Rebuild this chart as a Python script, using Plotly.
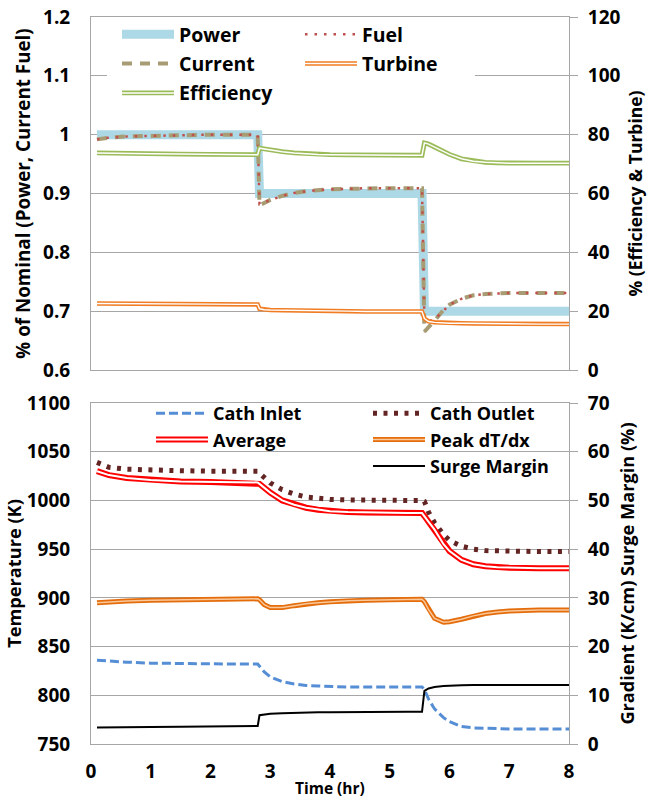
import plotly.graph_objects as go

# ---------------- data ----------------
t = [0.1, 0.3, 0.6, 1.0, 1.5, 2.0, 2.5, 2.79, 2.82, 2.9, 3.0, 3.2, 3.4, 3.6, 3.8, 4.0, 4.3,
     4.6, 5.0, 5.3, 5.54, 5.58, 5.65, 5.75, 5.9, 6.0, 6.2, 6.4, 6.6, 6.8, 7.0, 7.5, 8.0]

# top panel (left axis: fraction of nominal)
power = [1.0, 1.0, 1.0, 1.0, 1.0, 1.0, 1.0, 1.0,
         0.9, 0.9, 0.9, 0.9, 0.9, 0.9, 0.9, 0.9, 0.9, 0.9, 0.9, 0.9, 0.9,
         0.7, 0.7, 0.7, 0.7, 0.7, 0.7, 0.7, 0.7, 0.7, 0.7, 0.7, 0.7]
current = [0.992, 0.995, 0.997, 0.998, 0.999, 1.0, 1.0, 1.0,
           0.880, 0.884, 0.889, 0.896, 0.901, 0.904, 0.906, 0.907, 0.908, 0.909, 0.909, 0.909, 0.909,
           0.665, 0.672, 0.684, 0.702, 0.711, 0.721, 0.727, 0.729, 0.730, 0.731, 0.731, 0.731]
fuel = [0.992, 0.995, 0.997, 0.998, 0.999, 1.0, 1.0, 1.0,
        0.882, 0.885, 0.889, 0.896, 0.901, 0.904, 0.906, 0.907, 0.908, 0.909, 0.909, 0.909, 0.909,
        0.685, 0.683, 0.686, 0.702, 0.711, 0.721, 0.727, 0.729, 0.730, 0.731, 0.731, 0.731]
# top panel (right axis: %)
efficiency = [73.8, 73.7, 73.6, 73.5, 73.4, 73.3, 73.2, 73.2,
              75.4, 75.1, 74.8, 74.2, 73.8, 73.5, 73.3, 73.2, 73.1, 73.1, 73.0, 73.0, 73.0,
              77.2, 76.8, 75.8, 74.3, 73.3, 71.8, 71.0, 70.6, 70.4, 70.3, 70.3, 70.3]
turbine = [22.6, 22.6, 22.5, 22.5, 22.4, 22.4, 22.3, 22.3,
           20.8, 20.5, 20.4, 20.3, 20.2, 20.1, 20.1, 20.0, 20.0, 19.9, 19.9, 19.9, 19.9,
           17.5, 16.5, 16.2, 16.0, 15.9, 15.9, 15.8, 15.8, 15.7, 15.7, 15.6, 15.6]

# bottom panel (left axis: K)
cath_inlet = [836, 835, 834, 833, 832.5, 832, 832, 832,
              830, 824, 819, 814, 811.5, 810, 809.5, 809, 808.5, 808.5, 808.5, 808.5, 808.5,
              806, 796, 786, 777, 773, 768, 766.5, 766, 765.5, 765.5, 765.5, 765.5]
cath_outlet = [1039, 1034, 1032, 1031, 1030.5, 1030, 1030, 1030,
               1028, 1024, 1018, 1011, 1006.5, 1003.5, 1002, 1001, 1000.5, 1000, 1000, 1000, 1000,
               999, 988, 977, 965, 959, 953, 950, 948.5, 948, 948, 947.5, 947.5]
average = [1030, 1026, 1023, 1021, 1019.5, 1019, 1018.5, 1018.5,
           1017, 1013, 1008, 1000, 995.5, 992.5, 990.5, 989, 988, 987.5, 987, 987, 987,
           984, 978, 970, 955, 948, 939, 934.5, 932.5, 931.5, 931, 930.5, 930.5]
# bottom panel (right axis)
peak_dtdx = [29.0, 29.2, 29.35, 29.5, 29.6, 29.7, 29.75, 29.8,
             29.6, 28.6, 28.0, 28.0, 28.4, 28.8, 29.0, 29.2, 29.4, 29.5, 29.6, 29.65, 29.7,
             29.2, 27.6, 25.8, 25.0, 25.1, 25.6, 26.3, 26.8, 27.1, 27.3, 27.5, 27.5]
surge_margin = [3.4, 3.45, 3.5, 3.5, 3.55, 3.6, 3.65, 3.7,
                5.9, 6.1, 6.2, 6.3, 6.4, 6.45, 6.5, 6.5, 6.55, 6.55, 6.6, 6.6, 6.6,
                10.9, 11.4, 11.7, 11.9, 12.0, 12.05, 12.1, 12.1, 12.1, 12.1, 12.1, 12.1]

# tick labels
top_left_ticks = [0.6, 0.7, 0.8, 0.9, 1.0, 1.1, 1.2]
top_left_text = ["0.6", "0.7", "0.8", "0.9", "1", "1.1", "1.2"]
top_right_ticks = [0, 20, 40, 60, 80, 100, 120]
bot_left_ticks = [750, 800, 850, 900, 950, 1000, 1050, 1100]
bot_right_ticks = [0, 10, 20, 30, 40, 50, 60, 70]
x_ticks = [0, 1, 2, 3, 4, 5, 6, 7, 8]

# ---------------- layout helpers ----------------
W, H = 652, 800
ML, MR, MT, MB = 91, 83, 17, 56
PW = W - ML - MR
PH = H - MT - MB
FONT = "Open Sans"
GRID = "#a6a6a6"


def px_x(p):
    return (p - ML) / PW


def px_y(p):
    return (H - MB - p) / PH


top_dom = [px_y(370), 1.0]
bot_dom = [0.0, px_y(403)]

fig = go.Figure()


def add(x, y, name, color, width, dash="solid", xa="x", ya="y", legend="legend"):
    fig.add_trace(go.Scatter(
        x=x, y=y, name=name, mode="lines", xaxis=xa, yaxis=ya,
        line=dict(color=color, width=width, dash=dash),
        legend=legend, legendgroup=legend + name, hoverinfo="skip"))


def ghost(name, legend):
    fig.add_trace(go.Scatter(
        x=[None], y=[None], name=name, mode="lines", xaxis="x", yaxis="y",
        line=dict(color="rgba(0,0,0,0)", width=0), legend=legend,
        legendgroup=legend + name, hoverinfo="skip"))


# top panel
add(t, power, "Power", "#add8e6", 9, legend="legend")
add(t, current, "Current", "#a89c74", 4, dash="10px,8px", legend="legend")
add(t, fuel, "Fuel", "#c0504d", 2.5, dash="2.5px,7px", legend="legend2")
add(t, turbine, "Turbine", "#f07d24", 4.5, ya="y2", legend="legend2")
add(t, turbine, "Turbine", "#ffffff", 1.4, ya="y2", legend="legend6")
add(t, efficiency, "Efficiency", "#9bbb59", 4.8, ya="y2", legend="legend")
add(t, efficiency, "Efficiency", "#ffffff", 1.5, ya="y2", legend="legend5")

# bottom panel
add(t, cath_inlet, "Cath Inlet", "#558ed5", 3, dash="9px,4px", xa="x2", ya="y3", legend="legend3")
add(t, cath_outlet, "Cath Outlet", "#632523", 5, dash="4px,6.5px", xa="x2", ya="y3", legend="legend4")
add(t, average, "Average", "#ff0000", 6, xa="x2", ya="y3", legend="legend3")
add(t, average, "Average", "#ffffff", 2, xa="x2", ya="y3", legend="legend7")
add(t, peak_dtdx, "Peak dT/dx", "#e46c0a", 5, xa="x2", ya="y4", legend="legend4")
add(t, peak_dtdx, "Peak dT/dx", "#f9c89b", 1.5, xa="x2", ya="y4", legend="legend8")
add(t, surge_margin, "Surge Margin", "#000000", 2, xa="x2", ya="y4", legend="legend4")

# ghost rows so the overlay legends (inner lines of double strokes) align with hosts
ghost("Power", "legend5")
ghost("Current", "legend5")
ghost("Fuel", "legend6")
ghost("Cath Inlet", "legend7")
ghost("Cath Outlet", "legend8")
ghost("Surge Margin", "legend8")

rank = {"Power": 1, "Current": 2, "Efficiency": 3, "Fuel": 1, "Turbine": 2,
        "Cath Inlet": 1, "Average": 2, "Cath Outlet": 1, "Peak dT/dx": 2, "Surge Margin": 3}
for tr in fig.data:
    tr.legendrank = rank[tr.name]


def lfont(size, color="#000000"):
    return dict(family=FONT, size=size, color=color, weight="bold")


CLEAR = "rgba(0,0,0,0)"


def leg(xp, yp, font, gap):
    return dict(x=px_x(xp), y=px_y(yp), xanchor="left", yanchor="top",
                bgcolor=CLEAR, borderwidth=0, font=font,
                itemwidth=52, traceorder="grouped", tracegroupgap=gap,
                orientation="v")


tick_font = dict(family=FONT, size=19, color="#000000", weight="bold")


def tfont(size):
    return dict(family=FONT, size=size, color="#000000", weight="bold")


fig.update_layout(
    template="none",
    width=W, height=H,
    margin=dict(l=ML, r=MR, t=MT, b=MB, autoexpand=False),
    paper_bgcolor="white", plot_bgcolor="white",
    font=dict(family=FONT, color="#000000"),
    xaxis=dict(domain=[0, 1], anchor="y", range=[0, 8], showticklabels=False,
               showgrid=False, zeroline=False, showline=True, linecolor=GRID,
               mirror=True, ticks="", automargin=False),
    yaxis=dict(domain=top_dom, anchor="x", range=[0.6, 1.2], tickvals=top_left_ticks,
               ticktext=top_left_text, showgrid=True, gridcolor=GRID, zeroline=False,
               showline=True, linecolor=GRID, mirror=True, ticks="", automargin=False,
               tickfont=tick_font, ticklabelstandoff=16,
               title=dict(text="% of Nominal (Power, Current Fuel)", font=tfont(18.8),
                          standoff=7)),
    yaxis2=dict(overlaying="y", side="right", anchor="x", range=[0, 120],
                tickvals=top_right_ticks, showgrid=False, zeroline=False,
                showline=True, linecolor=GRID, ticks="outside", ticklen=8,
                tickcolor=GRID, tickfont=tick_font, ticklabelstandoff=6,
                automargin=False,
                title=dict(text="% (Efficiency & Turbine)", font=tfont(17.5), standoff=10)),
    xaxis2=dict(domain=[0, 1], anchor="y3", range=[0, 8], tickvals=x_ticks,
                showgrid=False, zeroline=False, showline=True, linecolor=GRID,
                mirror=True, ticks="", tickfont=tick_font, ticklabelstandoff=10,
                automargin=False),
    yaxis3=dict(domain=bot_dom, anchor="x2", range=[750, 1100], tickvals=bot_left_ticks,
                showgrid=True, gridcolor=GRID, zeroline=False, showline=True,
                linecolor=GRID, mirror=True, ticks="", tickfont=tick_font,
                ticklabelstandoff=16, automargin=False,
                title=dict(text="Temperature (K)", font=tfont(18.2), standoff=0)),
    yaxis4=dict(overlaying="y3", side="right", anchor="x2", range=[0, 70],
                tickvals=bot_right_ticks, showgrid=False, zeroline=False,
                showline=True, linecolor=GRID, ticks="outside", ticklen=8,
                tickcolor=GRID, tickfont=tick_font, ticklabelstandoff=6,
                automargin=False,
                title=dict(text="Gradient (K/cm) Surge Margin (%)", font=tfont(18.2),
                           standoff=12)),
    legend=leg(117, 15, lfont(19.5), 1),
    legend2=leg(300, 15, lfont(19.5), 1),
    legend5=leg(117, 15, lfont(19.5, CLEAR), 1),
    legend6=leg(300, 15, lfont(19.5, CLEAR), 1),
    legend3=leg(151, 395, lfont(18), 0),
    legend4=leg(368, 395, lfont(18), 0),
    legend7=leg(151, 395, lfont(18, CLEAR), 0),
    legend8=leg(368, 395, lfont(18, CLEAR), 0),
    # white backing behind the upper legend (hides the 1.1 gridline there)
    shapes=[dict(type="rect", xref="x domain", yref="y domain",
                 x0=px_x(107), x1=px_x(475),
                 y0=(370 - 108) / 353, y1=(370 - 19) / 353,
                 fillcolor="white", line=dict(width=0), layer="above")],
    annotations=[dict(text="Time (hr)", xref="paper", yref="paper",
                      x=0.5, y=px_y(801), xanchor="center", yanchor="bottom",
                      showarrow=False, font=tfont(15.5))],
    showlegend=True,
)

fig.write_html("out.html",
               config={"displayModeBar": False},
               post_script="document.body.style.margin='0';"
                           "document.documentElement.style.margin='0';")
